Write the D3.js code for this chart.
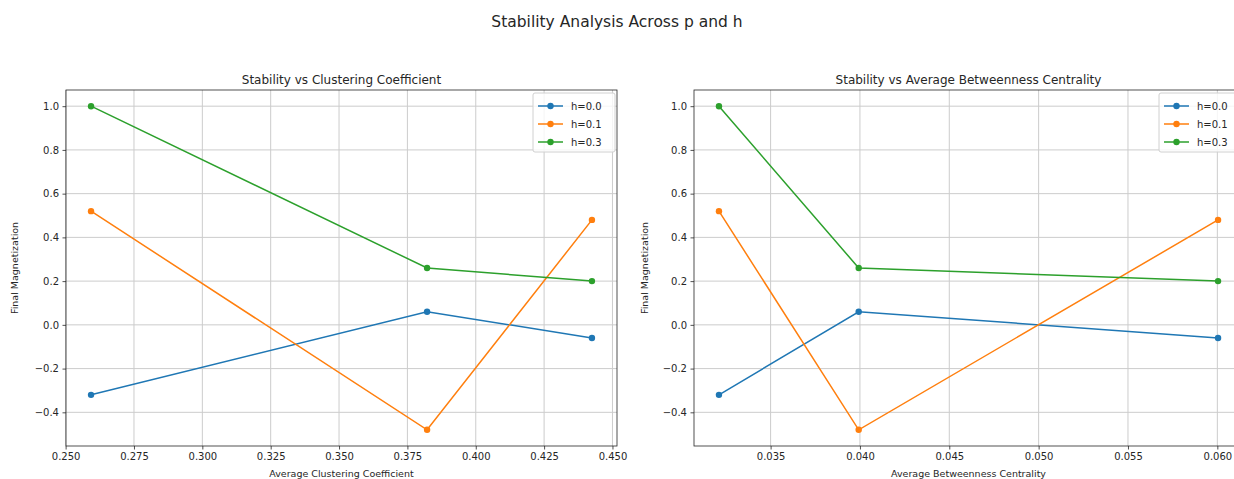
<!DOCTYPE html>
<html>
<head>
<meta charset="utf-8">
<script src="https://cdn.jsdelivr.net/npm/d3@7"></script>
<style>
  html, body { margin: 0; padding: 0; background: #fff; }
  svg { display: block; font-family: "DejaVu Sans", sans-serif; }
</style>
</head>
<body>
<svg id="chart" width="1234" height="479"></svg>
<script>
// ---- data ----
const seriesNames = ["h=0.0", "h=0.1", "h=0.3"];
const clusteringX = [0.2593, 0.3822, 0.4425];
const betweennessX = [0.03211, 0.03993, 0.06004];
const magH00 = [-0.32, 0.06, -0.06];
const magH01 = [0.52, -0.48, 0.48];
const magH03 = [1.0, 0.26, 0.20];
const yTicks = [-0.4, -0.2, 0.0, 0.2, 0.4, 0.6, 0.8, 1.0];
const clusteringTicks = [0.250, 0.275, 0.300, 0.325, 0.350, 0.375, 0.400, 0.425, 0.450];
const betweennessTicks = [0.035, 0.040, 0.045, 0.050, 0.055, 0.060];
const colors = ["#1f77b4", "#ff7f0e", "#2ca02c"];
const figTitle = "Stability Analysis Across p and h";
const panelTitles = ["Stability vs Clustering Coefficient", "Stability vs Average Betweenness Centrality"];
const xLabels = ["Average Clustering Coefficient", "Average Betweenness Centrality"];
const yLabel = "Final Magnetization";

(function () {
const svg = d3.select("#chart");
const textColor = "#262626";

svg.append("text")
  .attr("x", 617).attr("y", 27)
  .attr("text-anchor", "middle")
  .attr("font-size", 15.5)
  .attr("fill", textColor)
  .text(figTitle);

const ySeries = [magH00, magH01, magH03];

function padDomain(arr) {
  const lo = d3.min(arr), hi = d3.max(arr);
  const m = (hi - lo) * 0.05;
  return [lo - m, hi + m];
}

const allY = [].concat(...ySeries);

const panels = [
  { x0: 66, x1: 617, xs: clusteringX, ticks: clusteringTicks, fmt: d3.format(".3f"), title: panelTitles[0], xl: xLabels[0], ylx: 18 },
  { x0: 694, x1: 1243, xs: betweennessX, ticks: betweennessTicks, fmt: d3.format(".3f"), title: panelTitles[1], xl: xLabels[1], ylx: 648 }
];
const plotTop = 90, plotBottom = 446;

panels.forEach((p, pi) => {
  const x = d3.scaleLinear().domain(padDomain(p.xs)).range([p.x0, p.x1]);
  const y = d3.scaleLinear().domain(padDomain(allY)).range([plotBottom, plotTop]);
  const g = svg.append("g");

  // grid
  g.append("g").selectAll("line").data(p.ticks).join("line")
    .attr("x1", d => x(d)).attr("x2", d => x(d))
    .attr("y1", plotTop).attr("y2", plotBottom)
    .attr("stroke", "#cccccc").attr("stroke-width", 1);
  g.append("g").selectAll("line").data(yTicks).join("line")
    .attr("x1", p.x0).attr("x2", p.x1)
    .attr("y1", d => y(d)).attr("y2", d => y(d))
    .attr("stroke", "#cccccc").attr("stroke-width", 1);

  // axes
  const xAxis = d3.axisBottom(x).tickValues(p.ticks).tickFormat(p.fmt).tickSize(3.5).tickPadding(3.5);
  const gx = g.append("g").attr("transform", `translate(0,${plotBottom})`).call(xAxis);
  const yAxis = d3.axisLeft(y).tickValues(yTicks).tickFormat(d => d3.format(".1f")(d).replace("-", "\u2212")).tickSize(3.5).tickPadding(3.5);
  const gy = g.append("g").attr("transform", `translate(${p.x0},0)`).call(yAxis);
  [gx, gy].forEach(a => {
    a.select(".domain").remove();
    a.selectAll("line").attr("stroke", textColor).attr("stroke-width", 0.8);
    a.selectAll("text").attr("font-size", 10).attr("fill", textColor).attr("font-family", "DejaVu Sans");
  });

  // frame
  g.append("rect").attr("x", p.x0).attr("y", plotTop)
    .attr("width", p.x1 - p.x0).attr("height", plotBottom - plotTop)
    .attr("fill", "none").attr("stroke", textColor).attr("stroke-width", 0.8);

  // series
  ySeries.forEach((vals, si) => {
    const pts = p.xs.map((xv, i) => [xv, vals[i]]);
    g.append("path").datum(pts)
      .attr("fill", "none").attr("stroke", colors[si]).attr("stroke-width", 1.5)
      .attr("d", d3.line().x(d => x(d[0])).y(d => y(d[1])));
    g.append("g").selectAll("circle").data(pts).join("circle")
      .attr("cx", d => x(d[0])).attr("cy", d => y(d[1])).attr("r", 3.2)
      .attr("fill", colors[si]);
  });

  // titles
  g.append("text").attr("x", (p.x0 + p.x1) / 2).attr("y", 84)
    .attr("text-anchor", "middle").attr("font-size", 12).attr("fill", textColor).text(p.title);
  g.append("text").attr("x", (p.x0 + p.x1) / 2).attr("y", 477)
    .attr("text-anchor", "middle").attr("font-size", 9.5).attr("fill", textColor).text(p.xl);
  g.append("text")
    .attr("transform", `translate(${p.ylx},${(plotTop + plotBottom) / 2}) rotate(-90)`)
    .attr("text-anchor", "middle").attr("font-size", 9.5).attr("fill", textColor).text(yLabel);

  // legend
  const lx = p.x1 - 84, ly = 93;
  const lg = g.append("g").attr("transform", `translate(${lx},${ly})`);
  lg.append("rect").attr("x", 0).attr("y", 0).attr("width", 82).attr("height", 59).attr("rx", 2)
    .attr("fill", "rgba(255,255,255,0.8)").attr("stroke", "#d0d0d0").attr("stroke-width", 1);
  seriesNames.forEach((name, si) => {
    const yy = 13 + si * 18;
    lg.append("line").attr("x1", 5).attr("x2", 30).attr("y1", yy).attr("y2", yy)
      .attr("stroke", colors[si]).attr("stroke-width", 1.5);
    lg.append("circle").attr("cx", 17.5).attr("cy", yy).attr("r", 3.2).attr("fill", colors[si]);
    lg.append("text").attr("x", 38).attr("y", yy).attr("dy", "0.35em")
      .attr("font-size", 10).attr("fill", textColor).text(name);
  });
});
})();
</script>
</body>
</html>
